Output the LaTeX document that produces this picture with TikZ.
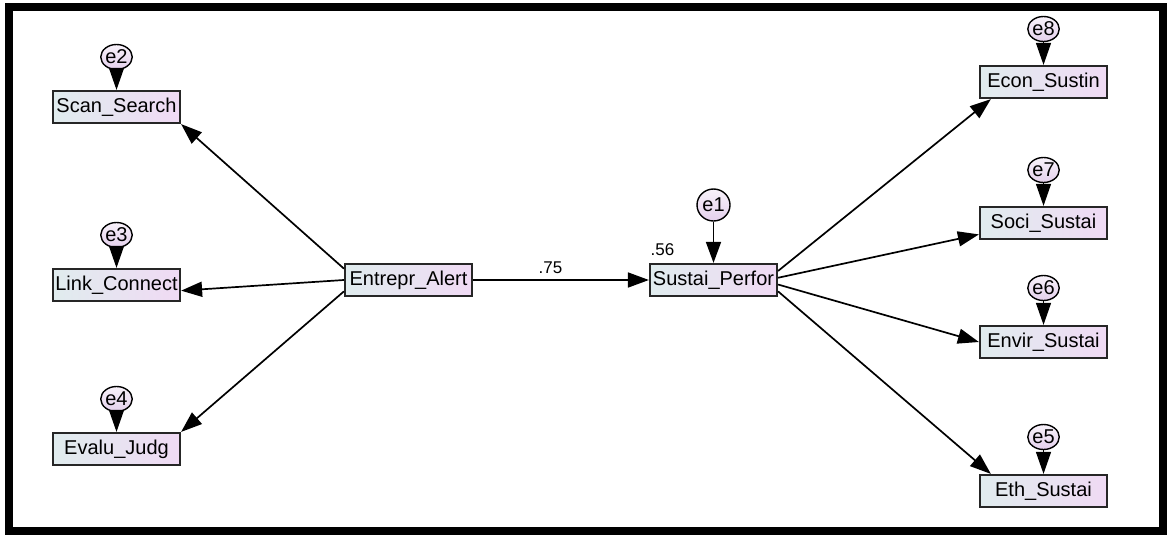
\documentclass[tikz,border=0pt]{standalone}
\usepackage{fontspec}
\setmainfont{Liberation Sans}
\usetikzlibrary{positioning, arrows.meta, shapes.geometric}

\definecolor{boxleft}{HTML}{E0ECEE}
\definecolor{boxright}{HTML}{F0DAF4}
\definecolor{errtop}{HTML}{F8F2FA}
\definecolor{errbot}{HTML}{E4D0EC}

\begin{document}
\begin{tikzpicture}[x=1pt,y=1pt,node distance=50pt,on grid,
   obs/.style={draw=black!85,line width=2.2pt,minimum width=127pt,minimum height=32pt,inner sep=0pt,
      left color=boxleft,right color=boxright,font=\fontsize{20}{20}\selectfont},
   err/.style={ellipse,draw,line width=1.4pt,minimum width=22pt,minimum height=25pt,inner sep=0pt,
      top color=errtop,bottom color=errbot,font=\fontsize{20}{20}\selectfont},
   reg/.style={line width=1.7pt,-{Triangle[length=21pt,width=15pt]}},
   errarrow/.style={line width=1.2pt,-{Triangle[length=22pt,width=15pt]}},
   lbl/.style={font=\fontsize{17}{17}\selectfont,inner sep=1pt}]
   \useasboundingbox (0,0) rectangle (1167,-536);
   \draw[line width=8.5pt] (9,-7) rectangle (1163,-531);

   \node[obs] (alert) at (408.5,-280) {Entrepr\_Alert};
   \node[obs] (perfor) [right=305pt of alert] {Sustai\_Perfor};
   \node[obs] (scan) [above left=173pt and 292pt of alert] {Scan\_Search};
   \node[obs] (link) [below=178pt of scan] {Link\_Connect};
   \node[obs] (evalu) [below=164pt of link] {Evalu\_Judg};
   \node[obs] (econ) [above right=198pt and 330pt of perfor] {Econ\_Sustin};
   \node[obs] (soci) [below=141pt of econ] {Soci\_Sustai};
   \node[obs] (envir) [below=119pt of soci] {Envir\_Sustai};
   \node[obs] (eth) [below=149pt of envir] {Eth\_Sustai};

   \node[err] (e2) [above=of scan] {e2};
   \node[err] (e3) [above=of link] {e3};
   \node[err] (e4) [above=of evalu] {e4};
   \node[err] (e8) [above=53pt of econ] {e8};
   \node[err] (e7) [above=53pt of soci] {e7};
   \node[err] (e6) [above=54pt of envir] {e6};
   \node[err] (e5) [above=54pt of eth] {e5};
   \node[err,minimum width=33pt,minimum height=32pt] (e1) [above=75pt of perfor] {e1};
   \node[lbl] (r56) [above left=30pt and 51pt of perfor] {.56};

   \draw[reg] (alert) -- node[lbl,above=4pt,pos=0.44] {.75} (perfor);
   \draw[reg] (alert.170) -- (scan.south east);
   \draw[reg] (alert.west) -- (link.-5);
   \draw[reg] (alert.190) -- (evalu.north east);
   \draw[reg] (perfor.8) -- (econ.198);
   \draw[reg] (perfor.2) -- (soci.190);
   \draw[reg] (perfor.-4) -- (envir.west);
   \draw[reg] (perfor.-10) -- (eth.162);
   \draw[reg] (e1) -- (perfor);

   \foreach \e/\v in {e2/scan,e3/link,e4/evalu,e8/econ,e7/soci,e6/envir,e5/eth}
      \draw[errarrow] (\e) -- (\v);
\end{tikzpicture}
\end{document}
